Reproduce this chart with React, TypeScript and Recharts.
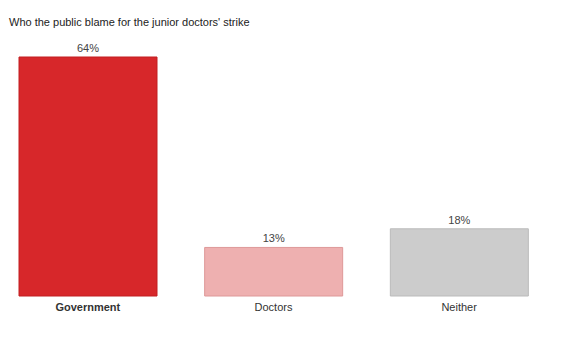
import { BarChart, Bar, XAxis, YAxis, Cell, LabelList } from "recharts";

const categories = ["Government", "Doctors", "Neither"];
const values = [64, 13, 18];
const fills = ["#D7272A", "#EEB0B0", "#CCCCCC"];
const strokes = ["#C21E21", "#DE9898", "#BBBBBB"];

const data = categories.map((name, i) => ({ name, value: values[i] }));

const FONT = "Helvetica, 'Liberation Sans', Arial, sans-serif";

function CategoryTick(props: any) {
  const { x, y, payload } = props;
  const bold = payload.value === "Government";
  return (
    <text
      x={x}
      y={y + 7}
      textAnchor="middle"
      fontFamily={FONT}
      fontSize={11}
      fontWeight={bold ? 700 : 400}
      fill="#333"
    >
      {payload.value}
    </text>
  );
}

export default function App() {
  return (
    <div style={{ position: "absolute", left: 0, top: 0, width: 564, height: 355, background: "#fff" }}>
      <div
        style={{
          position: "absolute",
          left: 9,
          top: 16,
          fontFamily: FONT,
          fontSize: 11,
          color: "#222",
          whiteSpace: "nowrap",
        }}
      >
        Who the public blame for the junior doctors' strike
      </div>
      <div style={{ position: "absolute", left: -5, top: 0 }}>
        <BarChart
          width={570}
          height={355}
          data={data}
          margin={{ top: 57, right: 13, left: 0, bottom: 29 }}
        >
          <XAxis
            dataKey="name"
            axisLine={false}
            tickLine={false}
            tick={<CategoryTick />}
            interval={0}
          />
          <YAxis hide domain={[0, 64]} />
          <Bar dataKey="value" barSize={138} isAnimationActive={false}>
            {data.map((d, i) => (
              <Cell key={d.name} fill={fills[i]} stroke={strokes[i]} strokeWidth={1} />
            ))}
            <LabelList
              dataKey="value"
              position="top"
              offset={5}
              formatter={(v: any) => `${v}%`}
              style={{ fontFamily: FONT, fontSize: 11, fill: "#444" }}
            />
          </Bar>
        </BarChart>
      </div>
    </div>
  );
}
